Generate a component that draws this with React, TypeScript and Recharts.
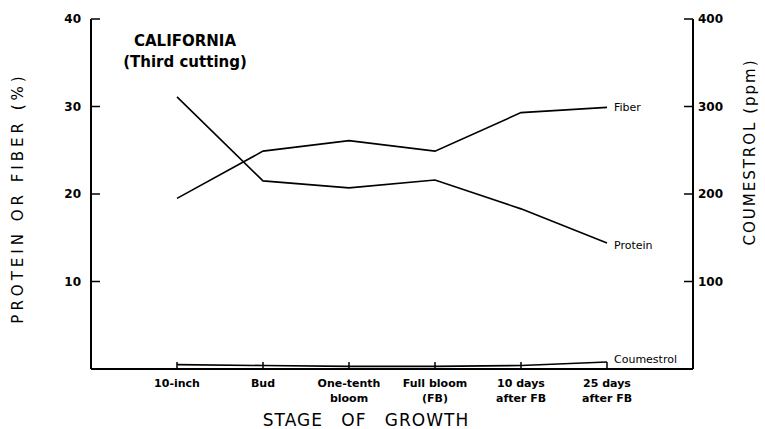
import React from 'react';
import { LineChart, Line, XAxis, YAxis } from 'recharts';

const stages = ['10-inch', 'Bud', 'One-tenth|bloom', 'Full bloom|(FB)', '10 days|after FB', '25 days|after FB'];
const fiber = [19.5, 24.9, 26.1, 24.9, 29.3, 29.9];
const protein = [31.1, 21.5, 20.7, 21.6, 18.3, 14.4];
const coumestrol = [5, 4, 3, 3, 4, 8];
const leftTicks = [10, 20, 30, 40];
const rightTicks = [100, 200, 300, 400];

const data = stages.map((stage, i) => ({
  stage,
  fiber: fiber[i],
  protein: protein[i],
  coumestrol: coumestrol[i],
}));

const FONT = '"DejaVu Sans", sans-serif';

const StageTick = (props: any) => {
  const { x, y, payload } = props;
  const lines = String(payload.value).split('|');
  return (
    <g>
      <line x1={x} y1={y} x2={x} y2={y - 7} stroke="#000" strokeWidth={1.5} />
      {lines.map((t, i) => (
        <text key={i} x={x} y={y + 18 + i * 15} textAnchor="middle" fontSize={11} fontWeight="bold" fontFamily={FONT} fill="#000">
          {t}
        </text>
      ))}
    </g>
  );
};

const LeftTick = (props: any) => {
  const { x, y, payload } = props;
  return (
    <g>
      <line x1={x} y1={y} x2={x + 9} y2={y} stroke="#000" strokeWidth={1.5} />
      <text x={x - 10} y={y + 4} textAnchor="end" fontSize={12} fontWeight="bold" fontFamily={FONT} fill="#000">
        {payload.value}
      </text>
    </g>
  );
};

const RightTick = (props: any) => {
  const { x, y, payload } = props;
  return (
    <g>
      <line x1={x} y1={y} x2={x - 9} y2={y} stroke="#000" strokeWidth={1.5} />
      <text x={x + 5} y={y + 4} textAnchor="start" fontSize={12} fontWeight="bold" fontFamily={FONT} fill="#000">
        {payload.value}
      </text>
    </g>
  );
};

const endLabel = (name: string, dy: number) => (props: any) => {
  const { x, y, index } = props;
  if (index !== stages.length - 1) return null;
  return (
    <text x={x + 7} y={y + dy} fontSize={11} fontFamily={FONT} fill="#000">
      {name}
    </text>
  );
};

const App: React.FC = () => {
  return (
    <div style={{ position: 'absolute', left: 0, top: 0, width: 765, height: 429, background: '#fff', fontFamily: FONT }}>
      <LineChart width={765} height={429} data={data} margin={{ top: 19, right: 32, bottom: 30, left: 51 }}>
        <XAxis
          dataKey="stage"
          xAxisId="x"
          interval={0}
          padding={{ left: 86, right: 86 }}
          height={30}
          tickSize={0}
          tickMargin={0}
          tick={<StageTick />}
          axisLine={{ stroke: '#000', strokeWidth: 2 }}
        />
        <YAxis
          yAxisId="left"
          domain={[0, 40]}
          ticks={leftTicks}
          width={40}
          tickSize={0}
          tickMargin={0}
          tick={<LeftTick />}
          axisLine={{ stroke: '#000', strokeWidth: 2 }}
        />
        <YAxis
          yAxisId="right"
          orientation="right"
          domain={[0, 400]}
          ticks={rightTicks}
          width={40}
          tickSize={0}
          tickMargin={0}
          tick={<RightTick />}
          axisLine={{ stroke: '#000', strokeWidth: 2 }}
        />
        <Line xAxisId="x" yAxisId="left" dataKey="fiber" stroke="#000" strokeWidth={1.6} dot={false} isAnimationActive={false} label={endLabel('Fiber', 4)} />
        <Line xAxisId="x" yAxisId="left" dataKey="protein" stroke="#000" strokeWidth={1.6} dot={false} isAnimationActive={false} label={endLabel('Protein', 6)} />
        <Line xAxisId="x" yAxisId="right" dataKey="coumestrol" stroke="#000" strokeWidth={1.6} dot={false} isAnimationActive={false} label={endLabel('Coumestrol', 1)} />
      </LineChart>

      <div style={{ position: 'absolute', left: 100, top: 31, width: 170, textAlign: 'center', fontSize: 15, fontWeight: 'bold', lineHeight: '21px' }}>
        CALIFORNIA
        <br />
        (Third cutting)
      </div>

      <div style={{ position: 'absolute', left: 18, top: 198, transform: 'translate(-50%, -50%) rotate(-90deg)', whiteSpace: 'nowrap', fontSize: 15, letterSpacing: 4 }}>
        PROTEIN OR FIBER (%)
      </div>

      <div style={{ position: 'absolute', left: 750, top: 152, transform: 'translate(-50%, -50%) rotate(-90deg)', whiteSpace: 'nowrap', fontSize: 15, letterSpacing: 2 }}>
        COUMESTROL (ppm)
      </div>

      <div style={{ position: 'absolute', left: 366, top: 420, transform: 'translate(-50%, -50%)', whiteSpace: 'nowrap', fontSize: 17, letterSpacing: 1, wordSpacing: 12 }}>
        STAGE OF GROWTH
      </div>
    </div>
  );
};

export default App;
